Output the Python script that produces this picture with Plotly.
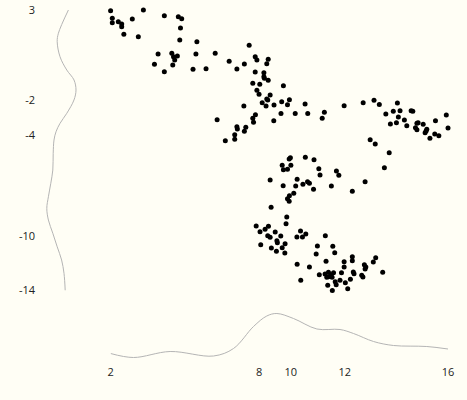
import plotly.graph_objects as go

# ---- data ----
x_vals = [2.00, 2.07, 2.07, 2.32, 2.46, 2.46, 2.90, 3.36, 2.55, 3.15, 4.23, 4.81, 4.95, 4.90, 4.87, 5.58,
          3.97, 4.54, 4.61, 4.66, 4.77, 3.82, 4.58, 4.23, 5.54, 6.34, 6.92, 5.42, 5.96, 7.24,
          7.75, 7.55, 8.00, 8.07, 8.54, 8.48, 8.00, 8.36, 8.36, 8.38, 8.54, 7.90, 8.19, 9.17, 8.07, 8.16,
          8.62, 8.48, 8.52, 8.29, 8.45, 8.78, 9.10, 9.42, 9.34, 10.07, 7.53, 8.01, 7.90, 7.93, 9.07, 9.66,
          10.18, 10.87, 10.78, 8.77, 6.42, 7.24, 7.26, 7.61, 7.55, 7.15, 7.15, 6.76,
          11.69, 12.48, 12.93, 13.15, 13.90, 13.42, 13.73, 14.01, 14.47, 14.54, 13.94, 14.19, 13.86, 13.61,
          14.29, 14.76, 14.71, 14.97, 14.65, 14.71, 15.12, 15.09, 15.05, 15.48, 15.93, 16.00, 15.45, 15.62,
          15.25, 12.77, 12.98, 13.56, 13.36, 12.56,
          9.41, 9.46, 10.08, 10.44, 9.12, 9.48, 9.17, 9.34, 10.64, 10.69, 11.37, 11.47, 8.62, 9.74, 9.16,
          9.68, 9.98, 10.17, 10.25, 10.42, 11.16, 12.03, 9.60, 9.42, 9.34, 9.41, 8.66, 9.31, 9.28,
          8.04, 8.20, 8.41, 8.55, 8.83, 8.52, 8.62, 9.06, 8.90, 8.92, 9.24, 8.23, 8.67, 9.12, 8.88, 9.23,
          9.88, 9.73, 9.96, 10.10, 10.91, 10.58, 11.22, 10.53, 11.30, 9.74, 10.25, 9.89, 10.94, 12.03, 12.03,
          11.69, 11.69, 13.00, 12.90, 12.53, 12.59, 12.56, 13.29, 11.04, 10.90, 11.25, 11.14, 11.04, 10.97,
          11.19, 10.66, 11.58, 12.07, 12.10, 12.42, 12.47, 11.32, 11.36, 11.52, 11.74, 11.95, 11.01, 11.20, 11.84]
y_vals = [2.96, 2.50, 2.23, 2.29, 2.15, 1.99, 2.45, 3.00, 1.53, 1.38, 2.65, 2.59, 2.47, 1.91, 1.18, 1.08,
          0.33, 0.38, 0.17, -0.03, 0.21, -0.29, -0.33, -0.74, 0.33, 0.38, -0.11, -0.59, -0.56, -0.58,
          0.86, -0.27, 0.17, -0.03, 0.01, -0.25, -0.76, -0.80, -1.04, -1.14, -1.26, -1.44, -1.50, -1.59, -1.87, -2.11,
          -2.15, -2.39, -2.45, -2.62, -2.82, -2.76, -2.56, -2.44, -2.74, -2.70, -2.82, -3.35, -3.56, -3.81, -3.28, -3.28,
          -3.28, -3.20, -3.56, -3.71, -3.65, -4.07, -4.21, -4.11, -4.35, -4.56, -4.84, -4.92,
          -2.80, -2.62, -2.47, -2.72, -2.64, -3.30, -3.14, -3.10, -3.10, -3.14, -3.48, -3.67, -3.83, -3.91,
          -4.01, -3.83, -3.87, -3.93, -4.13, -4.25, -4.23, -4.33, -4.44, -3.71, -3.36, -4.15, -4.52, -4.62,
          -4.78, -4.86, -5.12, -5.65, -6.56, -7.41,
          -6.03, -5.95, -5.93, -6.07, -6.41, -6.41, -6.68, -6.65, -6.62, -7.00, -6.76, -7.02, -7.30, -7.26, -7.65,
          -7.67, -7.56, -7.41, -7.50, -7.87, -7.67, -7.99, -8.11, -8.25, -8.44, -8.59, -8.96, -9.55, -9.95,
          -10.09, -10.44, -10.29, -10.11, -10.45, -10.68, -10.78, -10.70, -10.98, -11.10, -11.16, -11.22, -11.42, -11.41, -11.62, -11.73,
          -10.39, -10.76, -10.76, -10.58, -10.68, -11.30, -11.32, -11.79, -11.71, -12.41, -12.58, -13.38, -12.23, -11.95, -12.19,
          -12.25, -12.58, -12.01, -12.27, -12.44, -12.58, -12.70, -12.90, -12.90, -13.00, -12.92, -13.08, -13.16, -13.20,
          -13.20, -13.04, -12.92, -12.88, -12.98, -13.08, -13.18, -13.47, -13.65, -13.38, -13.53, -13.32, -13.68, -14.00, -13.89]

# range-frame ticks (min, quartiles, max) and their rounded labels
x_tick_vals = [2.0, 8.16, 9.48, 11.72, 16.0]
x_tick_text = ["2", "8", "10", "12", "16"]
y_tick_vals = [3.0, -2.45, -4.57, -10.69, -14.0]
y_tick_text = ["3", "-2", "-4", "-10", "-14"]

# marginal density of y (left)
y_density_grid = [3.0, 1.59, 1.08, 0.17, -0.64, -1.24, -1.85, -2.45, -3.26, -3.87, -4.38, -4.88, -5.69,
                  -6.70, -7.50, -8.32, -9.02, -9.73, -10.53, -11.35, -12.15, -12.96, -14.0]
y_density = [0.71, 0.46, 0.43, 0.50, 0.67, 0.85, 0.90, 0.85, 0.67, 0.50, 0.40, 0.35, 0.33,
             0.32, 0.27, 0.21, 0.17, 0.21, 0.32, 0.43, 0.54, 0.60, 0.63]

# marginal density of x (bottom)
x_density_grid = [2.0, 2.95, 4.47, 6.27, 7.10, 7.93, 8.48, 8.90, 9.59, 10.56, 11.52, 12.08, 12.91, 13.74, 15.12, 16.0]
x_density = [0.13, 0.05, 0.17, 0.08, 0.23, 0.67, 0.88, 0.93, 0.83, 0.62, 0.61, 0.53, 0.37, 0.29, 0.27, 0.22]

W, H = 467, 400
BG = "#fffef5"
CURVE = "#b4b4b4"
FONT = dict(family="Open Sans, DejaVu Sans, sans-serif", size=11, color="#222222")

def px_x(p):
    return p / W

def px_y(p):
    return (H - p) / H

fig = go.Figure()

fig.add_trace(go.Scatter(
    x=x_vals, y=y_vals, mode="markers", xaxis="x", yaxis="y",
    marker=dict(color="black", size=5, line=dict(width=0)),
    cliponaxis=False, hoverinfo="x+y", showlegend=False))

fig.add_trace(go.Scatter(
    x=y_density, y=y_density_grid, mode="lines", xaxis="x2", yaxis="y",
    line=dict(color=CURVE, width=1, shape="spline", smoothing=1.0),
    cliponaxis=False, showlegend=False, hoverinfo="skip"))

fig.add_trace(go.Scatter(
    x=x_density_grid, y=x_density, mode="lines", xaxis="x3", yaxis="y3",
    line=dict(color=CURVE, width=1, shape="spline", smoothing=1.0),
    cliponaxis=False, showlegend=False, hoverinfo="skip"))

hidden = dict(showgrid=False, zeroline=False, showline=False, showticklabels=False,
              ticks="", automargin=False)

fig.update_layout(
    template="none",
    width=W, height=H,
    autosize=False,
    margin=dict(l=0, r=0, t=0, b=0, pad=0, autoexpand=False),
    paper_bgcolor=BG, plot_bgcolor=BG,
    font=FONT,
    showlegend=False,
    hovermode=False,
    xaxis=dict(domain=[px_x(110.6), px_x(448.0)], range=[2, 16],
               anchor="free", position=px_y(364),
               tickmode="array", tickvals=x_tick_vals, ticktext=x_tick_text,
               showgrid=False, zeroline=False, showline=False, ticks="",
               automargin=False, ticklabeloverflow="allow", tickfont=FONT),
    yaxis=dict(domain=[px_y(290.5), px_y(10)], range=[-14, 3],
               anchor="free", position=px_x(35),
               tickmode="array", tickvals=y_tick_vals, ticktext=y_tick_text,
               showgrid=False, zeroline=False, showline=False, ticks="",
               automargin=False, ticklabeloverflow="allow", tickfont=FONT),
    xaxis2=dict(domain=[px_x(40), px_x(80)], range=[0, 1], anchor="y", **hidden),
    xaxis3=dict(domain=[px_x(110.6), px_x(448.0)], range=[2, 16], anchor="y3", **hidden),
    yaxis3=dict(domain=[px_y(360), px_y(300)], range=[0, 1.2], anchor="x3", **hidden),
)

# remove the default page margin so the figure fills the window exactly
fig.write_html(
    "out.html",
    config={"displayModeBar": False},
    post_script="document.body.style.margin='0';document.body.style.background='" + BG + "';"
                "document.body.style.overflow='hidden';")
